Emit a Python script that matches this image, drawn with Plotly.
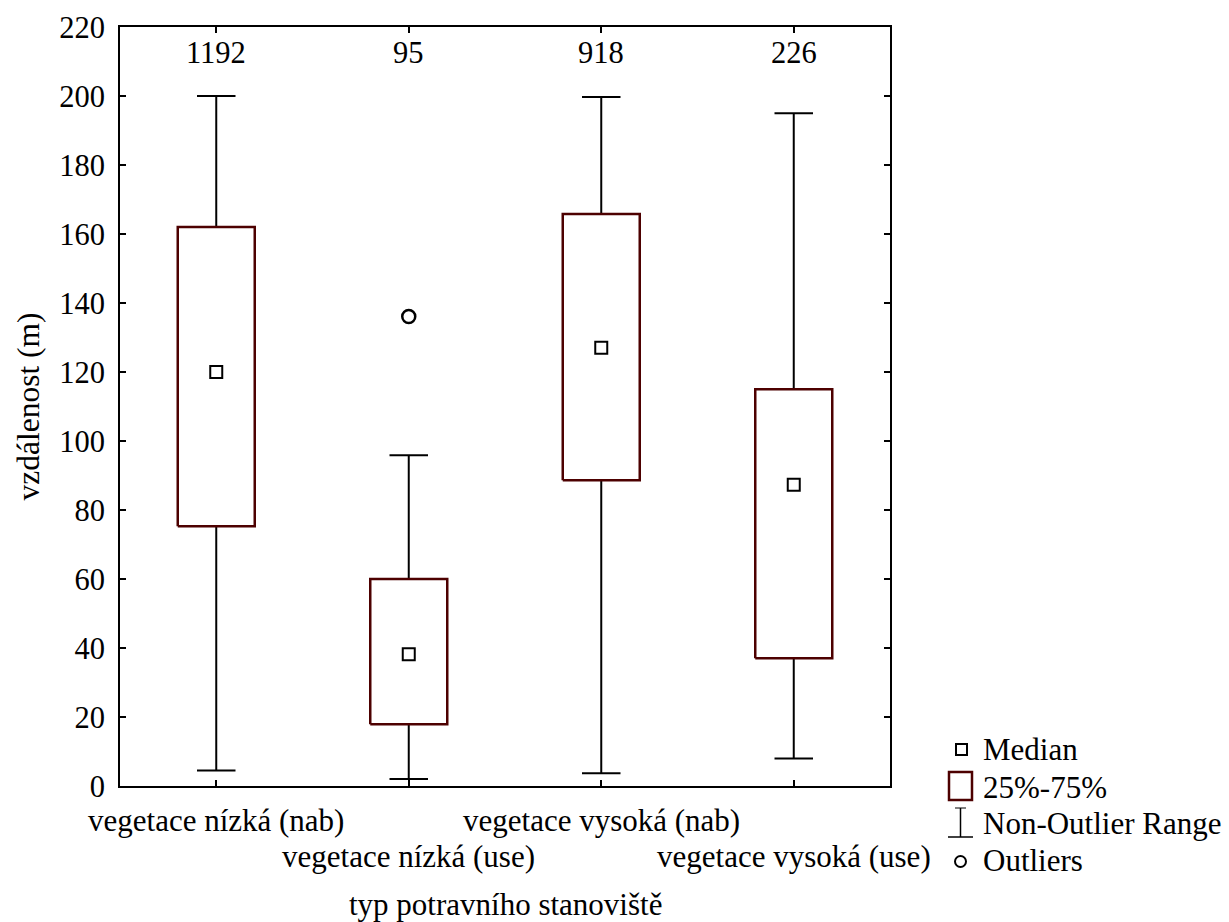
import plotly.graph_objects as go

# ---- data ----
categories = ["vegetace nízká (nab)", "vegetace nízká (use)",
              "vegetace vysoká (nab)", "vegetace vysoká (use)"]
counts = ["1192", "95", "918", "226"]
whisker_low = [4.5, 2.0, 3.7, 8.0]
q1 = [75.3, 17.9, 88.6, 37.0]
median = [120.0, 38.2, 127.0, 87.3]
q3 = [162.0, 60.0, 165.8, 115.0]
whisker_high = [200.0, 95.9, 199.7, 195.0]
outlier_x = [1]
outlier_y = [136.1]
y_ticks = list(range(0, 221, 20))
legend_labels = ["Median", "25%-75%", "Non-Outlier Range", "Outliers"]

# ---- layout geometry (pixels) ----
W, H = 1229, 922
L, R, T, B = 120, 890, 27, 786
FONT = "Liberation Serif, Times New Roman, serif"
BOXCOL = "#4d0000"

def pxx(x):
    return (x - L) / (R - L)

def pxy(y):
    return (B - y) / (B - T)

pos = list(range(len(categories)))
bw = 0.2   # box half width
cw = 0.1   # cap half width

fig = go.Figure()

# whiskers + caps
wx, wy = [], []
for i in pos:
    wx += [i, i, None, i, i, None,
           i - cw, i + cw, None, i - cw, i + cw, None]
    wy += [whisker_low[i], q1[i], None, q3[i], whisker_high[i], None,
           whisker_low[i], whisker_low[i], None, whisker_high[i], whisker_high[i], None]
fig.add_trace(go.Scatter(x=wx, y=wy, mode="lines",
                         line=dict(color="black", width=2), hoverinfo="skip"))

# boxes
bx, by = [], []
for i in pos:
    bx += [i - bw, i + bw, i + bw, i - bw, i - bw, None]
    by += [q1[i], q1[i], q3[i], q3[i], q1[i], None]
fig.add_trace(go.Scatter(x=bx, y=by, mode="lines",
                         line=dict(color=BOXCOL, width=2.5), hoverinfo="skip"))

# medians
fig.add_trace(go.Scatter(x=pos, y=median, mode="markers",
                         marker=dict(symbol="square-open", size=12, color="black",
                                     line=dict(width=2, color="black"))))
# outliers
fig.add_trace(go.Scatter(x=outlier_x, y=outlier_y, mode="markers",
                         marker=dict(symbol="circle-open", size=13, color="black",
                                     line=dict(width=2.5, color="black"))))

annotations = []
# counts on top
for i in pos:
    annotations.append(dict(x=i, y=212.5, xref="x", yref="y", text=counts[i],
                            showarrow=False, font=dict(size=30.5, family=FONT, color="black"),
                            yanchor="middle"))
# staggered category labels
for i in pos:
    ypix = 820 if i % 2 == 0 else 856
    annotations.append(dict(x=i, y=pxy(ypix), xref="x", yref="paper", text=categories[i],
                            showarrow=False, font=dict(size=31, family=FONT, color="black"),
                            yanchor="middle", xanchor="center"))
# x axis title
annotations.append(dict(x=0.5, y=pxy(904), xref="paper", yref="paper",
                        text="typ potravního stanoviště", showarrow=False,
                        font=dict(size=31, family=FONT, color="black"), yanchor="middle"))

# legend (manual)
leg_y = [749, 787, 823, 860]
for lab, ly in zip(legend_labels, leg_y):
    annotations.append(dict(x=pxx(981), y=pxy(ly), xref="paper", yref="paper", text=lab,
                            showarrow=False, xanchor="left", yanchor="middle",
                            font=dict(size=31, family=FONT, color="black")))

shapes = [
    dict(type="rect", xref="paper", yref="paper", x0=pxx(956), x1=pxx(967),
         y0=pxy(755), y1=pxy(744), line=dict(color="black", width=2)),
    dict(type="rect", xref="paper", yref="paper", x0=pxx(949), x1=pxx(972),
         y0=pxy(800), y1=pxy(772), line=dict(color=BOXCOL, width=2.5)),
    dict(type="line", xref="paper", yref="paper", x0=pxx(960.5), x1=pxx(960.5),
         y0=pxy(837), y1=pxy(808), line=dict(color="black", width=1.5)),
    dict(type="line", xref="paper", yref="paper", x0=pxx(948), x1=pxx(973),
         y0=pxy(837), y1=pxy(837), line=dict(color="black", width=1.5)),
    dict(type="line", xref="paper", yref="paper", x0=pxx(955), x1=pxx(966),
         y0=pxy(808), y1=pxy(808), line=dict(color="black", width=1)),
    dict(type="circle", xref="paper", yref="paper", x0=pxx(955), x1=pxx(966),
         y0=pxy(867), y1=pxy(856), line=dict(color="black", width=2)),
]

fig.update_layout(
    width=W, height=H,
    margin=dict(l=L, r=W - R, t=T, b=H - B, pad=0),
    paper_bgcolor="white", plot_bgcolor="white",
    showlegend=False,
    font=dict(family=FONT, size=31, color="black"),
    annotations=annotations, shapes=shapes,
    xaxis=dict(range=[-0.5, 3.5], tickvals=pos, ticktext=[""] * 4,
               showgrid=False, zeroline=False, showline=True, linecolor="black",
               linewidth=2, mirror="ticks", ticks="inside", ticklen=6,
               tickwidth=2, tickcolor="black"),
    yaxis=dict(range=[0, 220], tickvals=y_ticks, showgrid=False, zeroline=False,
               showline=True, linecolor="black", linewidth=2, mirror="ticks",
               ticks="inside", ticklen=6, tickwidth=2, tickcolor="black",
               tickfont=dict(size=30.5, family=FONT, color="black"),
               ticklabelstandoff=7,
               title=dict(text="vzdálenost (m)", font=dict(size=31.5, family=FONT, color="black"),
                          standoff=10)),
)

fig.write_html("out.html")
